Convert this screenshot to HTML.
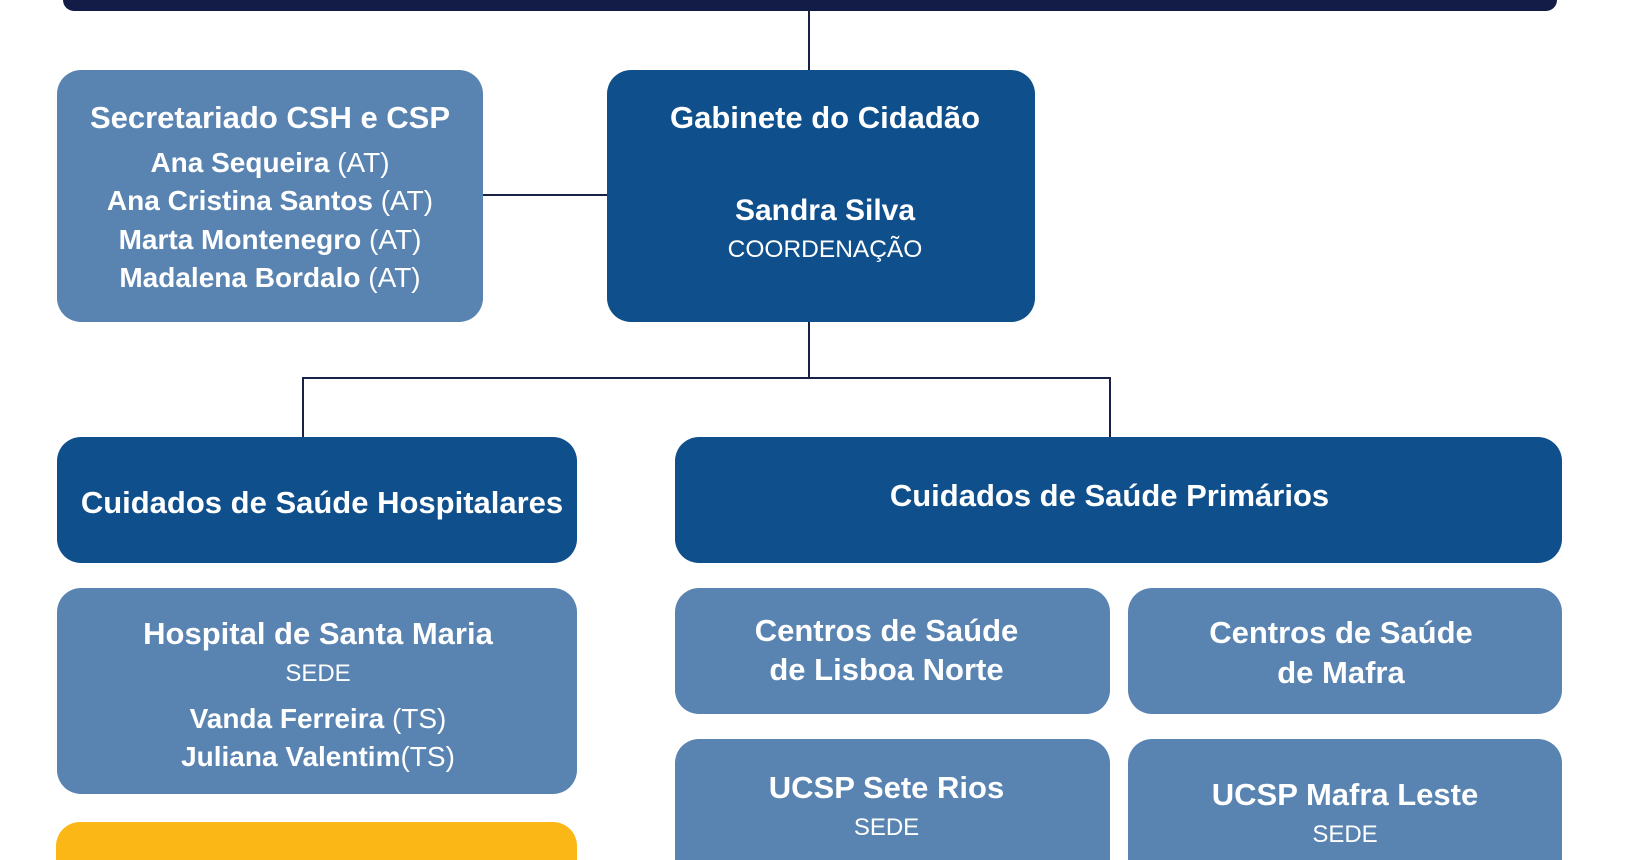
<!DOCTYPE html>
<html>
<head>
<meta charset="utf-8">
<style>
  html,body{margin:0;padding:0;width:1630px;height:860px;overflow:hidden;background:#ffffff;}
  #wrap{position:relative;width:1630px;height:860px;overflow:hidden;font-family:"Liberation Sans",Arial,sans-serif;color:#ffffff;}
  .bx{position:absolute;border-radius:24px;}
  .bo{position:absolute;border-radius:24px 24px 0 0;}
  .dk{background:#0f4f8c;}
  .lt{background:#5984b1;}
  .yl{background:#fbb715;}
  .ln{position:absolute;background:#1a2149;}
  .t{position:absolute;text-align:center;white-space:nowrap;}
  .b31{font-size:31px;line-height:31px;font-weight:bold;}
  .b30{font-size:30px;line-height:30px;font-weight:bold;}
  .b28{font-size:28px;line-height:28px;font-weight:bold;}
  .r24{font-size:24px;line-height:24px;font-weight:normal;}
  .r25{font-size:24.5px;line-height:24.5px;font-weight:normal;}
  .n{font-weight:normal;}
</style>
</head>
<body>
<div id="wrap">
  <!-- top bar -->
  <div style="position:absolute;left:63px;top:0;width:1494px;height:11px;background:#131c47;border-radius:0 0 20px 20px;"></div>

  <!-- connectors -->
  <div class="ln" style="left:808px;top:10px;width:2px;height:62px;"></div>
  <div class="ln" style="left:483px;top:194px;width:126px;height:2px;"></div>
  <div class="ln" style="left:808px;top:320px;width:2px;height:59px;"></div>
  <div class="ln" style="left:302px;top:377px;width:809px;height:2px;"></div>
  <div class="ln" style="left:302px;top:377px;width:2px;height:62px;"></div>
  <div class="ln" style="left:1109px;top:377px;width:2px;height:62px;"></div>

  <!-- Secretariado -->
  <div class="bx lt" style="left:57px;top:70px;width:426px;height:252px;"></div>
  <div class="t b31" style="left:57px;width:426px;top:102px;">Secretariado CSH e CSP</div>
  <div class="t b28" style="left:57px;width:426px;top:149px;">Ana Sequeira <span class="n">(AT)</span></div>
  <div class="t b28" style="left:57px;width:426px;top:187px;">Ana Cristina Santos <span class="n">(AT)</span></div>
  <div class="t b28" style="left:57px;width:426px;top:226px;">Marta Montenegro <span class="n">(AT)</span></div>
  <div class="t b28" style="left:57px;width:426px;top:264px;">Madalena Bordalo <span class="n">(AT)</span></div>

  <!-- Gabinete -->
  <div class="bx dk" style="left:607px;top:70px;width:428px;height:252px;"></div>
  <div class="t b31" style="left:611px;width:428px;top:102px;">Gabinete do Cidadão</div>
  <div class="t b30" style="left:611px;width:428px;top:196px;">Sandra Silva</div>
  <div class="t r25" style="left:611px;width:428px;top:238px;">COORDENAÇÃO</div>

  <!-- CSH -->
  <div class="bx dk" style="left:57px;top:437px;width:520px;height:126px;"></div>
  <div class="t b31" style="left:62px;width:520px;top:487px;">Cuidados de Saúde Hospitalares</div>

  <!-- CSP -->
  <div class="bx dk" style="left:675px;top:437px;width:887px;height:126px;"></div>
  <div class="t b31" style="left:675px;width:869px;top:480px;">Cuidados de Saúde Primários</div>

  <!-- Hospital -->
  <div class="bx lt" style="left:57px;top:588px;width:520px;height:206px;"></div>
  <div class="t b31" style="left:58px;width:520px;top:618px;">Hospital de Santa Maria</div>
  <div class="t r24" style="left:58px;width:520px;top:662px;">SEDE</div>
  <div class="t b28" style="left:58px;width:520px;top:705px;">Vanda Ferreira <span class="n">(TS)</span></div>
  <div class="t b28" style="left:58px;width:520px;top:743px;">Juliana Valentim<span class="n">(TS)</span></div>

  <!-- Yellow -->
  <div class="bo yl" style="left:56px;top:822px;width:521px;height:38px;"></div>

  <!-- Centros Lisboa Norte -->
  <div class="bx lt" style="left:675px;top:588px;width:435px;height:126px;"></div>
  <div class="t b31" style="left:669px;width:435px;top:615px;">Centros de Saúde</div>
  <div class="t b31" style="left:669px;width:435px;top:654px;">de Lisboa Norte</div>

  <!-- Centros Mafra -->
  <div class="bx lt" style="left:1128px;top:588px;width:434px;height:126px;"></div>
  <div class="t b31" style="left:1124px;width:434px;top:617px;">Centros de Saúde</div>
  <div class="t b31" style="left:1124px;width:434px;top:657px;">de Mafra</div>

  <!-- UCSP Sete Rios -->
  <div class="bo lt" style="left:675px;top:739px;width:435px;height:121px;"></div>
  <div class="t b31" style="left:669px;width:435px;top:772px;">UCSP Sete Rios</div>
  <div class="t r24" style="left:669px;width:435px;top:816px;">SEDE</div>

  <!-- UCSP Mafra Leste -->
  <div class="bo lt" style="left:1128px;top:739px;width:434px;height:121px;"></div>
  <div class="t b31" style="left:1128px;width:434px;top:779px;">UCSP Mafra Leste</div>
  <div class="t r24" style="left:1128px;width:434px;top:823px;">SEDE</div>
</div>
</body>
</html>
